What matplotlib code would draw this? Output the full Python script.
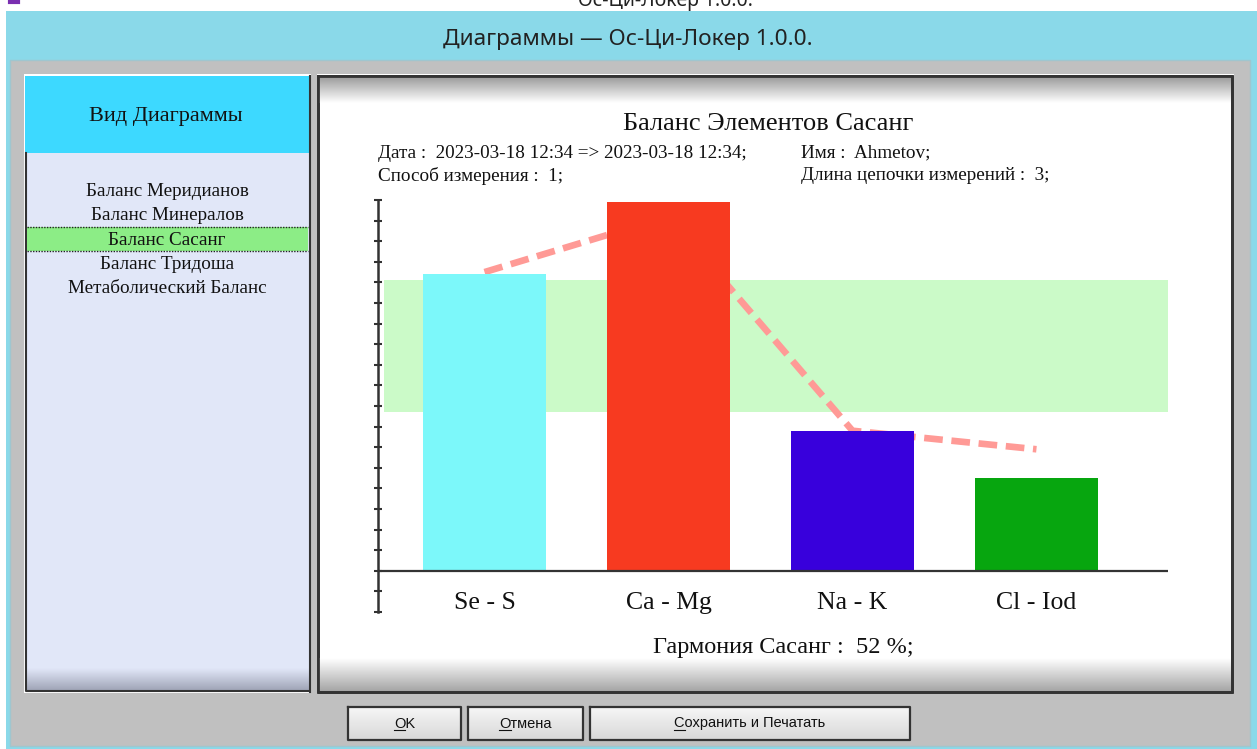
import numpy as np
import matplotlib.pyplot as plt
from matplotlib.patches import Rectangle
from matplotlib.colors import to_rgb

# chart data
categories = ['Se - S', 'Ca - Mg', 'Na - K', 'Cl - Iod']
bar_values = [144, 179, 68, 45]
line_values = [145, 172, 68, 59]
norm_low, norm_high = 77, 141
bar_colors = ['#7cf8fa', '#f73a20', '#3800dc', '#07a60f']
harmony = 52

menu_items = ['Баланс Меридианов', 'Баланс Минералов', 'Баланс Сасанг',
              'Баланс Тридоша', 'Метаболический Баланс']
selected = 2
buttons = ['OK', 'Отмена', 'Сохранить и Печатать']

W, H = 1257, 749
serif = 'Liberation Serif'
sans = 'Liberation Sans'

fig = plt.figure(figsize=(W / 100, H / 100), dpi=100, facecolor='white')

# background "window" drawn in pixel coordinates
bg = fig.add_axes([0, 0, 1, 1])
bg.set_xlim(0, W)
bg.set_ylim(H, 0)
bg.axis('off')


def rect(x0, y0, x1, y1, fc, ec='none', lw=0, z=1, **kw):
    bg.add_patch(Rectangle((x0, y0), x1 - x0, y1 - y0, facecolor=fc,
                           edgecolor=ec, linewidth=lw, zorder=z, **kw))


def vgrad(x0, x1, y0, y1, c0, c1, z=2):
    c0, c1 = np.array(to_rgb(c0)), np.array(to_rgb(c1))
    t = np.linspace(0, 1, 64)[:, None, None]
    img = c0 * (1 - t) + c1 * t
    bg.imshow(img, extent=(x0, x1, y1, y0), aspect='auto', zorder=z,
              interpolation='bilinear')


# cut-off text of the window behind
bg.text(665, 6, 'Ос-Ци-Локер 1.0.0.', ha='center', va='baseline',
        fontsize=14, family='Noto Sans', color='#222', zorder=0)
bg.plot([10, 18], [1.5, 1.5], color='#7a2fb0', lw=3, zorder=0)

# title bar + frame
rect(6, 11, W, H, '#8ad9e9', z=1)
bg.text(628, 39, 'Диаграммы — Ос-Ци-Локер 1.0.0.', ha='center', va='center',
        fontsize=16.3, family='Noto Sans', color='#222', zorder=3)
rect(10, 60, 1250, 746, '#c0c0c0', ec='#9fc6cf', lw=1, z=1.5)

# left panel
rect(24, 74, 311, 693, 'white', z=2)
rect(25, 76, 309, 153, '#3dd9ff', z=3)
rect(26, 153, 309, 691, '#e1e7f8', z=3)
vgrad(26, 309, 668, 691, '#e1e7f8', '#9ea3b5', z=3.5)
bg.plot([26, 26, 309], [153, 691, 691], color='#333', lw=1.5, zorder=4)
bg.plot([309.5, 309.5], [76, 692], color='#333', lw=1.5, zorder=4)
bg.text(166, 117, 'Вид Диаграммы', ha='center', va='center',
        fontsize=16, family=serif, color='#111', zorder=5)
for i, item in enumerate(menu_items):
    y = 190 + i * 24.3
    if i == selected:
        rect(27, y - 12, 308, y + 12, '#8ced86', z=4)
        for yy in (y - 12, y + 12):
            bg.plot([27, 308], [yy, yy], color='#222', lw=1, ls=(0, (1, 1)), zorder=4.5)
    bg.text(167, y + 1.5, item, ha='center', va='center', fontsize=13.8,
            family=serif, color='#111', zorder=5)

# right panel
rect(317, 74, 1234, 694, 'white', z=2)
rect(318, 76, 1232, 692, 'white', ec='#333', lw=2, z=3)
vgrad(319, 1231, 77, 103, '#9c9c9c', '#ffffff', z=3.5)
vgrad(319, 1231, 658, 691, '#ffffff', '#a6a6a6', z=3.5)
bg.plot([318, 318, 1232, 1232, 318], [76, 692, 692, 76, 76], color='#333',
        lw=2, zorder=4)

bg.text(768, 124, 'Баланс Элементов Сасанг', ha='center', va='center',
        fontsize=19, family=serif, color='#111', zorder=5)
info = [(378, 153, 'Дата :  2023-03-18 12:34 => 2023-03-18 12:34;'),
        (801, 153, 'Имя :  Ahmetov;'),
        (378, 176, 'Способ измерения :  1;'),
        (801, 176, 'Длина цепочки измерений :  3;')]
for x, y, s in info:
    bg.text(x, y, s, ha='left', va='center', fontsize=13.8, family=serif,
            color='#111', zorder=5)
bg.text(783, 648, f'Гармония Сасанг :  {harmony} %;', ha='center', va='center',
        fontsize=17.5, family=serif, color='#111', zorder=5)

# buttons
btn_x = [(348, 461), (468, 583), (590, 910)]
btn_texts = []
for (x0, x1), label in zip(btn_x, buttons):
    vgrad(x0, x1, 707, 740, '#f6f6f6', '#d8d8d8', z=3)
    bg.plot([x0, x1, x1, x0, x0], [707, 707, 740, 740, 707], color='#333',
            lw=1.6, zorder=4)
    t = bg.text((x0 + x1) / 2, 723.5, label, ha='center', va='center',
                fontsize=10.5, family=sans, color='#111', zorder=5)
    btn_texts.append(t)

# chart axes, pixel box: x 378..1168, y 200..612
ax = fig.add_axes([378 / W, (H - 612) / H, 790 / W, 412 / H])
ax.patch.set_alpha(0)
x = np.arange(len(categories))
ax.set_xlim(-0.579, 3.715)
ax.set_ylim(-20, 180)

ax.axhspan(norm_low, norm_high, xmin=0.008, xmax=1, color='#cbfac8', lw=0, zorder=1)
ax.plot(x, line_values, color='#ff9a96', lw=4.8, dashes=(2.8, 1.3),
        dash_capstyle='butt', zorder=2)
ax.bar(x, bar_values, width=0.67, color=bar_colors, zorder=3)
ax.axhline(0, color='#333', lw=1.6, zorder=4)

for i, c in enumerate(categories):
    ax.text(i, -15.5, c, ha='center', va='center', fontsize=18.5,
            family=serif, color='#111')

for s in ['top', 'right', 'bottom']:
    ax.spines[s].set_visible(False)
ax.spines['left'].set_color('#333')
ax.spines['left'].set_linewidth(1.8)
ax.set_xticks([])
ax.set_yticks(np.arange(-20, 181, 10))
ax.tick_params(axis='y', direction='inout', length=6, width=1.5,
               color='#333', labelleft=False)

# underline first letter of button captions
fig.canvas.draw()
r = fig.canvas.get_renderer()
inv = bg.transData.inverted()
for t in btn_texts:
    bb = t.get_window_extent(r)
    tmp = bg.text(0, 0, t.get_text()[0], fontsize=10.5, family=sans)
    w1 = tmp.get_window_extent(r).width
    tmp.remove()
    (px0, py0) = inv.transform((bb.x0, bb.y0))
    (px1, _) = inv.transform((bb.x0 + w1, bb.y0))
    bg.plot([px0, px1], [py0 - 1, py0 - 1], color='#111', lw=0.8, zorder=5)

fig.savefig('out.png', dpi=100, facecolor='white')
